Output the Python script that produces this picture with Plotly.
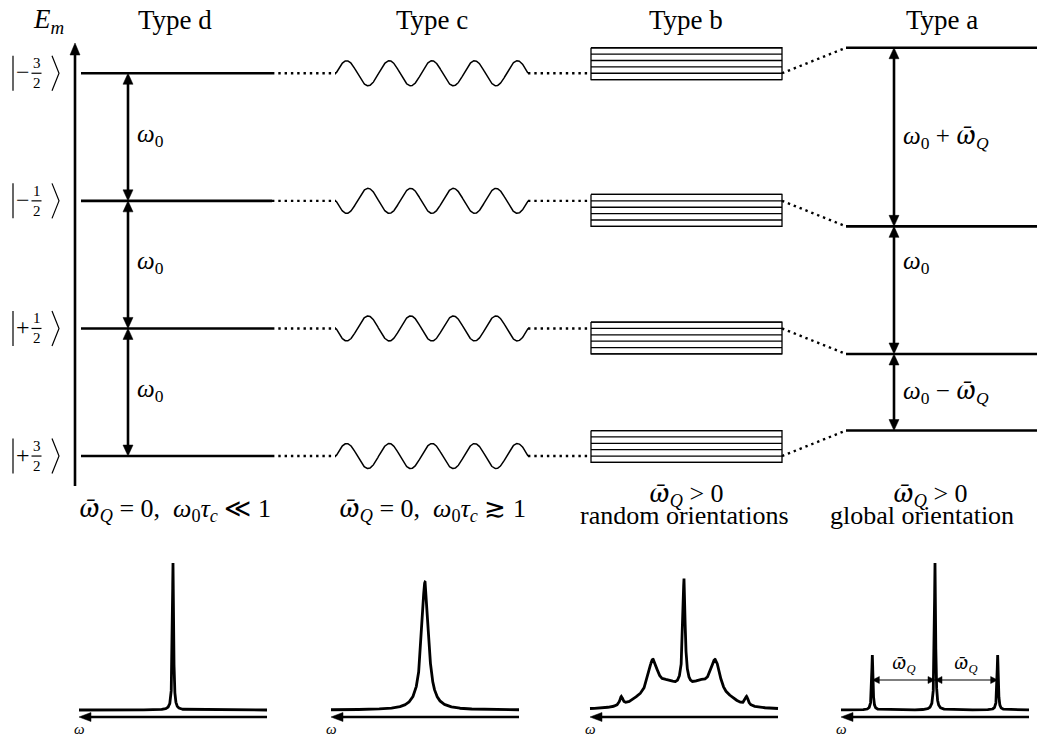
import numpy as np
import plotly.graph_objects as go

# ---------------- data ----------------
type_names = ["Type d", "Type c", "Type b", "Type a"]
ket_signs = ["−", "−", "+", "+"]
ket_numerators = ["3", "1", "1", "3"]
zeeman_energy = [1.5, 0.5, -0.5, -1.5]          # E_m / ω0, m = -3/2 ... +3/2
quad_shift = [0.2, -0.2, -0.2, 0.2]             # first-order quadrupolar shift / ω0
orientation_factors = [1.0, 0.75, 0.5, 0.25, 0.0, -0.25]
wave_sign = [1, -1, -1, 1]

WQ = "<span style=\"font-family:'Noto Serif'\"><i>ω\u0304</i></span><sub><i>Q</i></sub>"
W0 = "<i>ω</i><sub>0</sub>"
cond_top = [
    WQ + " = 0,\u00a0\u00a0" + W0 + "<i>τ</i><sub><i>c</i></sub> ≪ 1",
    WQ + " = 0,\u00a0\u00a0" + W0 + "<i>τ</i><sub><i>c</i></sub> ≳ 1",
    WQ + " > 0",
    WQ + " > 0",
]
cond_bottom = ["", "", "random orientations", "global orientation"]

gap_labels_d = [W0, W0, W0]
gap_labels_a = [W0 + " + " + WQ, W0, W0 + " − " + WQ]

# spectral lines: offset from ω0 in units of ω̄Q, relative height, half width
spec_d_pos, spec_d_height, spec_d_width = [0.0], [1.0], [0.011]
spec_c_pos, spec_c_height, spec_c_width = [0.0], [0.87], [0.066]
spec_b_pos = [0.0, 0.0, -0.5, 0.5, -0.25, 0.25, -0.75, 0.75, -1.0, 1.0]
spec_b_height = [0.67, 0.10, 0.27, 0.27, 0.13, 0.13, 0.03, 0.03, 0.06, 0.06]
spec_b_width = [0.02, 0.08, 0.10, 0.10, 0.2, 0.2, 0.15, 0.15, 0.03, 0.03]
spec_a_pos, spec_a_height, spec_a_width = [-1.0, 0.0, 1.0], [0.374, 1.0, 0.374], [0.011, 0.011, 0.011]

# ---------------- geometry / style ----------------
W, H = 1051, 738
Y0 = 264.65          # pixel row of E = 0
PX_E = 127.6         # pixels per ω0
PX_NU = 62.67        # pixels per ω̄Q in the spectra
PX_I = 147.0         # pixels per unit intensity
FONT = "Liberation Serif"
BLACK = "black"


def py_to_e(py):
    return (Y0 - py) / PX_E


def head(tip, direction, length, half, sx, sy):
    dx, dy = direction[0] * sx, direction[1] * sy
    n = np.hypot(dx, dy)
    ux, uy = dx / n, dy / n
    bx, by = -length * ux, -length * uy
    qx, qy = -uy * half, ux * half
    pts = [(0, 0), (bx + qx, by + qy), (bx - qx, by - qy), (0, 0)]
    return [tip[0] + p[0] / sx for p in pts], [tip[1] + p[1] / sy for p in pts]


fig = go.Figure()


def add_line(xs, ys, width, dash=None, xa="x", ya="y"):
    fig.add_trace(go.Scatter(x=xs, y=ys, mode="lines", xaxis=xa, yaxis=ya,
                             line=dict(color=BLACK, width=width, dash=dash),
                             hoverinfo="skip"))


def add_fill(xs, ys, xa="x", ya="y"):
    fig.add_trace(go.Scatter(x=xs, y=ys, mode="lines", fill="toself", fillcolor=BLACK,
                             xaxis=xa, yaxis=ya, line=dict(color=BLACK, width=0.5),
                             hoverinfo="skip"))


def double_arrow(x, e1, e2, length, half, width, heads_x, heads_y, sx=1.0, sy=PX_E, xa="x", ya="y",
                 horizontal=False):
    d = 1.0 if e2 > e1 else -1.0
    if horizontal:
        add_line([e1 + d * (length - 1.5) / sx, e2 - d * (length - 1.5) / sx], [x, x], width, xa=xa, ya=ya)
        for tip, dirn in ((e1, (-d, 0)), (e2, (d, 0))):
            hx, hy = head((tip, x), dirn, length, half, sx, sy)
            heads_x.extend(hx + [None]); heads_y.extend(hy + [None])
    else:
        add_line([x, x], [e1 + d * (length - 1.5) / sy, e2 - d * (length - 1.5) / sy], width, xa=xa, ya=ya)
        for tip, dirn in ((e1, (0, -d)), (e2, (0, d))):
            hx, hy = head((x, tip), dirn, length, half, sx, sy)
            heads_x.extend(hx + [None]); heads_y.extend(hy + [None])


# ---------------- energy level diagram ----------------
AXIS_X = 75
D_X = (81, 272)
WAVE_X = (336, 528)
BOX_X = (591, 782)
A_X = (846, 1037)
ARROW_D_X = 128
ARROW_A_X = 894
LW = 2.6
DOTS = "2.4px,3.9px"

heads_x, heads_y = [], []

# vertical energy axis
e_axis_top = py_to_e(43)
add_line([AXIS_X, AXIS_X], [py_to_e(486), e_axis_top - 10 / PX_E], LW)
hx, hy = head((AXIS_X, e_axis_top), (0, 1), 12, 5, 1.0, PX_E)
heads_x += hx + [None]; heads_y += hy + [None]

a_energy = [e + s for e, s in zip(zeeman_energy, quad_shift)]

lx, ly, dx_, dy_ = [], [], [], []
for e, ea in zip(zeeman_energy, a_energy):
    lx += [D_X[0], D_X[1], None, A_X[0], A_X[1], None]
    ly += [e, e, None, ea, ea, None]
    dx_ += [D_X[1], WAVE_X[0], None, WAVE_X[1], BOX_X[0], None, BOX_X[1], A_X[0], None]
    dy_ += [e, e, None, e, e, None, e, ea, None]
add_line(lx, ly, LW)
add_line(dx_, dy_, 2.4, dash=DOTS)

# fluctuating levels (type c)
wx = np.linspace(WAVE_X[0], WAVE_X[1], 600)
period = (WAVE_X[1] - WAVE_X[0]) / 4.5
amp = 12.5 / PX_E
wxs, wys = [], []
for e, s in zip(zeeman_energy, wave_sign):
    wxs += list(wx) + [None]
    wys += list(e + s * amp * np.sin(2 * np.pi * (wx - WAVE_X[0]) / period)) + [None]
add_line(wxs, wys, 1.5)

# orientation-distributed sublevels (type b)
bx_, by_ = [], []
for e, s in zip(zeeman_energy, quad_shift):
    subs = [e + f * s for f in orientation_factors]
    top, bot = max(subs), min(subs)
    bx_ += [BOX_X[0], BOX_X[1], BOX_X[1], BOX_X[0], BOX_X[0], None]
    by_ += [top, top, bot, bot, top, None]
    for v in subs:
        bx_ += [BOX_X[0], BOX_X[1], None]
        by_ += [v, v, None]
add_line(bx_, by_, 1.3)

# transition arrows
for i in range(3):
    double_arrow(ARROW_D_X, zeeman_energy[i], zeeman_energy[i + 1], 11, 5, LW, heads_x, heads_y)
    double_arrow(ARROW_A_X, a_energy[i], a_energy[i + 1], 11, 5, LW, heads_x, heads_y)
add_fill(heads_x, heads_y)

# ket brackets
kx, ky = [], []
half_k = 17.5 / PX_E
for e in zeeman_energy:
    kx += [13, 13, None, 52, 59, 52, None, 31.5, 41.5, None]
    ky += [e - half_k, e + half_k, None, e + half_k, e, e - half_k, None, e, e, None]
add_line(kx, ky, 1.2)

annotations = []


def text(x, y, s, size, xref="x", yref="y", xanchor="center", yanchor="middle"):
    annotations.append(dict(x=x, y=y, xref=xref, yref=yref, text=s, showarrow=False,
                            xanchor=xanchor, yanchor=yanchor,
                            font=dict(family=FONT, size=size, color=BLACK)))


for e, sg, num in zip(zeeman_energy, ket_signs, ket_numerators):
    text(23, e + 1 / PX_E, sg, 24)
    text(36.5, e + 10 / PX_E, num, 15)
    text(36.5, e - 10 / PX_E, "2", 15)

for i, lab in enumerate(gap_labels_d):
    mid = 0.5 * (zeeman_energy[i] + zeeman_energy[i + 1])
    text(135, mid + 2 / PX_E, lab, 25, xanchor="left")

a_label_e = [0.5 * (a_energy[0] + a_energy[1]), 0.0, 0.5 * (a_energy[2] + a_energy[3])]
for e, lab in zip(a_label_e, gap_labels_a):
    text(901, e + 2 / PX_E, lab, 25, xanchor="left")

col_center = [175, 432, 686, 942]
for c, name in zip(col_center, type_names):
    text(c, 1 - 20 / H, name, 27, yref="paper")
text(48, 1 - 21 / H, "<i>E</i><sub><i>m</i></sub>", 27, yref="paper")

# condition captions: one-line captions centred at row 507, two-line ones split around it
cond_x_top = [175, 432, 686, 930]
cond_x_bottom = [175, 432, 684, 922]
for i in range(4):
    if cond_bottom[i]:
        text(cond_x_top[i], 1 - 492 / H, cond_top[i], 26, yref="paper")
        text(cond_x_bottom[i], 1 - 515 / H, cond_bottom[i], 26, yref="paper")
    else:
        text(cond_x_top[i], 1 - 507 / H, cond_top[i], 26, yref="paper")

# ---------------- spectra ----------------
spectra = [
    (spec_d_pos, spec_d_height, spec_d_width),
    (spec_c_pos, spec_c_height, spec_c_width),
    (spec_b_pos, spec_b_height, spec_b_width),
    (spec_a_pos, spec_a_height, spec_a_width),
]
spec_center = [173, 425, 684, 935]
HALF_PX = 98
nu = np.linspace(-1.5, 1.5, 6001)
axis_level = -7 / PX_I
layout_axes = {}
for k, (pos, hts, wds) in enumerate(spectra):
    xa, ya = f"x{k + 2}", f"y{k + 2}"
    c = spec_center[k]
    layout_axes[f"xaxis{k + 2}"] = dict(domain=[(c - HALF_PX) / W, (c + HALF_PX) / W],
                                        range=[HALF_PX / PX_NU, -HALF_PX / PX_NU],
                                        anchor=ya, visible=False)
    layout_axes[f"yaxis{k + 2}"] = dict(domain=[1 - 735 / H, 1 - 535 / H],
                                        range=[-(735 - 710) / PX_I, (710 - 535) / PX_I],
                                        anchor=xa, visible=False)
    inten = np.zeros_like(nu)
    for p, h, g in zip(pos, hts, wds):
        inten += h * g ** 2 / ((nu - p) ** 2 + g ** 2)
    add_line(nu, inten, 2.8, xa=xa, ya=ya)

    # frequency axis, ω increasing to the left
    sx_, sy_ = [], []
    add_line([-1.5, 1.5 - 10 / PX_NU], [axis_level, axis_level], 2.6, xa=xa, ya=ya)
    hx, hy = head((1.5, axis_level), (1, 0), 12, 4.5, PX_NU, PX_I)
    sx_ += hx + [None]; sy_ += hy + [None]

    if k == 3:
        arrow_i = (710 - 680) / PX_I
        double_arrow(arrow_i, -1.0, 0.0, 7, 3.5, 1.2, sx_, sy_, sx=PX_NU, sy=PX_I, xa=xa, ya=ya, horizontal=True)
        double_arrow(arrow_i, 0.0, 1.0, 7, 3.5, 1.2, sx_, sy_, sx=PX_NU, sy=PX_I, xa=xa, ya=ya, horizontal=True)
        for p in (-0.5, 0.5):
            text(p, (710 - 663) / PX_I, WQ, 18, xref=xa, yref=ya)
    add_fill(sx_, sy_, xa=xa, ya=ya)
    text(1.49, -(729 - 710) / PX_I, "<i>ω</i>", 15, xref=xa, yref=ya)

fig.update_layout(
    width=W, height=H, margin=dict(l=0, r=0, t=0, b=0),
    paper_bgcolor="white", plot_bgcolor="rgba(0,0,0,0)", showlegend=False,
    xaxis=dict(domain=[0, 1], range=[0, W], visible=False),
    yaxis=dict(domain=[0, 1], range=[py_to_e(H), py_to_e(0)], visible=False),
    annotations=annotations,
    **layout_axes,
)
fig.write_html("out.html")
